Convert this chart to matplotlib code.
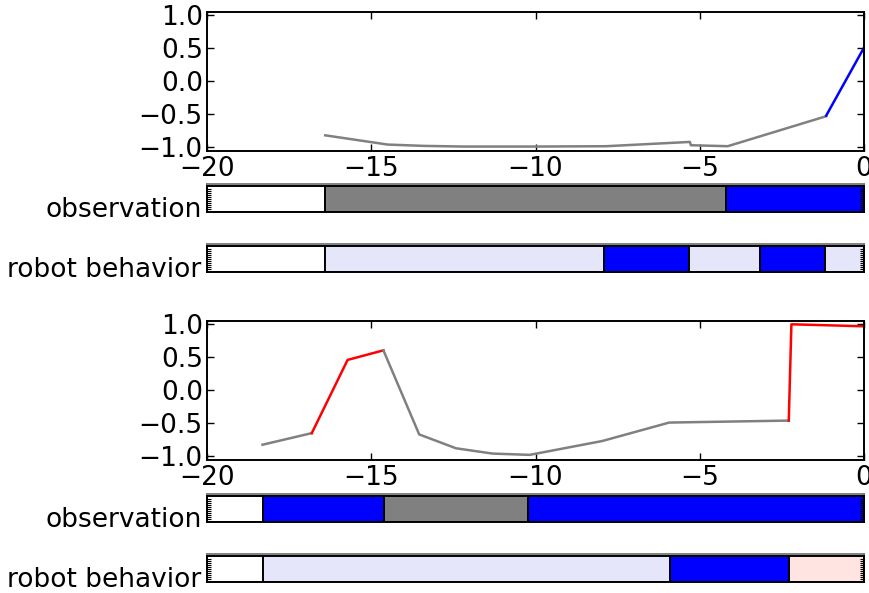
import numpy as np
import matplotlib
matplotlib.use('Agg')
import matplotlib.pyplot as plt

# top trial: signal trace (gray = ambiguous, blue = blue phase)
top_gray_x = [-16.4, -14.5, -13.4, -12.2, -10.0, -7.85, -5.3, -5.27, -4.15, -1.15]
top_gray_y = [-0.82, -0.96, -0.98, -0.99, -0.99, -0.985, -0.92, -0.97, -0.985, -0.53]
top_blue_x = [-1.15, 0.0]
top_blue_y = [-0.52, 0.51]

# bottom trial
bot_gray1_x = [-18.31, -16.81]
bot_gray1_y = [-0.826, -0.65]
bot_red1_x = [-16.81, -15.72, -14.63]
bot_red1_y = [-0.65, 0.46, 0.605]
bot_gray2_x = [-14.63, -13.54, -12.42, -11.31, -10.18, -7.97, -5.93, -2.29]
bot_gray2_y = [0.605, -0.67, -0.88, -0.96, -0.98, -0.77, -0.49, -0.46]
bot_red2_x = [-2.29, -2.21, 0.0]
bot_red2_y = [-0.46, 1.0, 0.97]

# segment boundaries and colours of the strips
top_obs_edges = [-20, -16.4, -4.2, 0]
top_obs_colors = ['white', 'gray', 'blue']
top_beh_edges = [-20, -16.4, -7.9, -5.34, -3.16, -1.19, 0]
top_beh_colors = ['white', 'lavender', 'blue', 'lavender', 'blue', 'lavender']
bot_obs_edges = [-20, -18.3, -14.61, -10.23, 0]
bot_obs_colors = ['white', 'blue', 'gray', 'blue']
bot_beh_edges = [-20, -18.3, -5.91, -2.28, 0]
bot_beh_colors = ['white', 'lavender', 'blue', 'mistyrose']

plt.rcParams['font.family'] = ['DejaVu Sans']
plt.rcParams['font.size'] = 19
plt.rcParams['axes.linewidth'] = 1.4

fig = plt.figure(figsize=(8.69, 5.93), dpi=100)
fig.patch.set_facecolor('white')

L, W = 207 / 869, 657 / 869
H = 593.0


def ax_at(top_px, bot_px):
    return fig.add_axes([L, 1 - bot_px / H, W, (bot_px - top_px) / H])


def line_axes(ax):
    ax.set_xlim(-20, 0)
    ax.set_ylim(-1.05, 1.05)
    ax.set_yticks([-1.0, -0.5, 0.0, 0.5, 1.0])
    ax.set_xticks([-20, -15, -10, -5, 0])
    ax.tick_params(direction='in', top=True, right=True, length=5, width=1, labelsize=19)
    ax.tick_params(axis='x', pad=4)
    ax.tick_params(axis='y', pad=3)


def strip_axes(ax, edges, colors, label):
    lefts = edges[:-1]
    widths = np.diff(edges)
    ax.barh(0, widths, left=lefts, height=1.0, align='edge', color=colors,
            edgecolor='black', linewidth=1.4)
    ax.set_xlim(-20, 0)
    ax.set_ylim(0, 1.06)
    ax.spines['top'].set_color('gray')
    ax.set_xticks([])
    ax.set_yticks(np.linspace(0.12, 0.88, 11))
    ax.set_yticklabels([])
    ax.tick_params(axis='y', direction='in', left=True, right=True, length=3, width=0.8)
    ax.text(-0.008, 0.08, label, transform=ax.transAxes, ha='right', va='center',
            fontsize=19)


ax1 = ax_at(12, 150.5)
ax1.plot(top_gray_x, top_gray_y, color='gray', lw=1.8)
ax1.plot(top_blue_x, top_blue_y, color='blue', lw=1.8)
line_axes(ax1)

strip_axes(ax_at(184, 212), top_obs_edges, top_obs_colors, 'observation')
strip_axes(ax_at(244, 272), top_beh_edges, top_beh_colors, 'robot behavior')

ax2 = ax_at(321, 459.5)
ax2.plot(bot_gray1_x, bot_gray1_y, color='gray', lw=1.8)
ax2.plot(bot_red1_x, bot_red1_y, color='red', lw=1.8)
ax2.plot(bot_gray2_x, bot_gray2_y, color='gray', lw=1.8)
ax2.plot(bot_red2_x, bot_red2_y, color='red', lw=1.8)
line_axes(ax2)

strip_axes(ax_at(494, 522), bot_obs_edges, bot_obs_colors, 'observation')
strip_axes(ax_at(554, 582), bot_beh_edges, bot_beh_colors, 'robot behavior')

plt.savefig('out.png', dpi=100, facecolor='white')
plt.close()
